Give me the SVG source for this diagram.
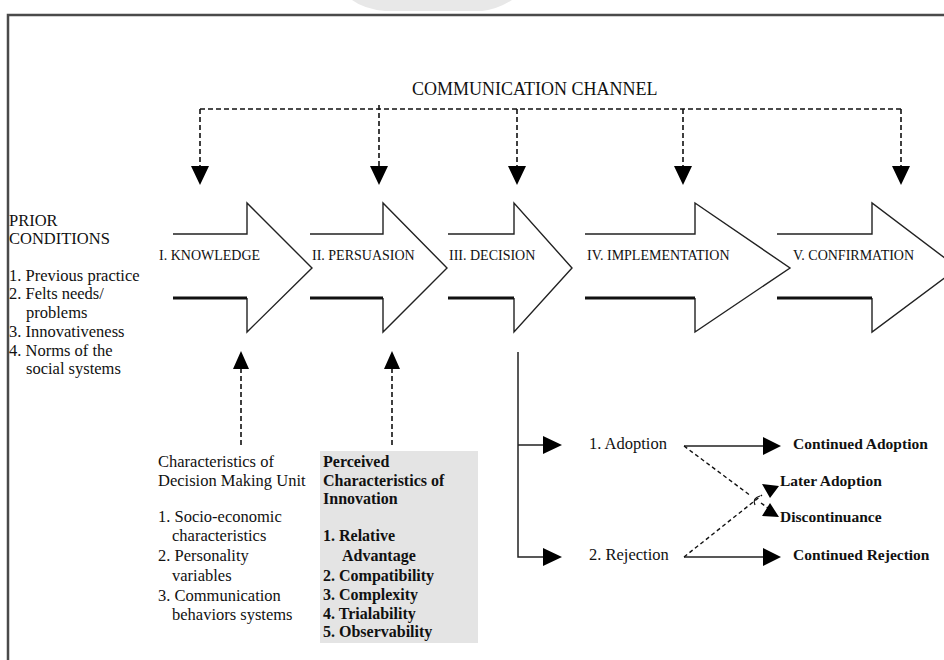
<svg xmlns="http://www.w3.org/2000/svg" width="944" height="660" viewBox="0 0 944 660">
<style>
.t{font-family:"Liberation Serif","Times New Roman",serif;fill:#111}
.lbl{font-size:14px}
.body{font-size:16.5px}
.b{font-size:16px;font-weight:bold}
.rb{font-size:15.5px;font-weight:bold}
.head{fill:none;stroke:#222;stroke-width:1.4;stroke-linejoin:miter}
.shB{fill:none;stroke:#111;stroke-width:3}
.dash{fill:none;stroke:#111;stroke-width:1.6;stroke-dasharray:5 3}
.dashd{fill:none;stroke:#111;stroke-width:1.4;stroke-dasharray:4 3}
.solid{fill:none;stroke:#222;stroke-width:1.5}
.ah{fill:#000}
</style>
<rect width="944" height="660" fill="#fff"/>
<path d="M352,0 L512,0 Q498,9 482,11 L385,11 Q364,9 352,0 Z" fill="#e8e8e8"/>
<rect x="8" y="15" width="980" height="720" fill="none" stroke="#4a4a4a" stroke-width="2.5"/>

<g id="node-comm-channel">
<text class="t" x="412" y="95" font-size="18">COMMUNICATION CHANNEL</text>
</g>

<g id="node-prior">
<text class="t body" x="9" y="226">PRIOR</text>
<text class="t body" x="9" y="244">CONDITIONS</text>
<text class="t body" x="9" y="281">1. Previous practice</text>
<text class="t body" x="9" y="299">2. Felts needs/</text>
<text class="t body" x="26" y="318">problems</text>
<text class="t body" x="9" y="337">3. Innovativeness</text>
<text class="t body" x="9" y="356">4. Norms of  the</text>
<text class="t body" x="26" y="374">social systems</text>
</g>

<g id="node-knowledge">
<path class="head" d="M173,234 H247 V203 L312,268 L247,332 V298"/>
<path class="shB" d="M173,298 H247"/>
<text class="t lbl" x="159" y="260">I. KNOWLEDGE</text>
</g>
<g id="node-persuasion">
<path class="head" d="M310,234 H383 V203 L447,268 L383,332 V298"/>
<path class="shB" d="M310,298 H383"/>
<text class="t lbl" x="312" y="260">II. PERSUASION</text>
</g>
<g id="node-decision">
<path class="head" d="M448,234 H514 V203 L572,268 L514,332 V298"/>
<path class="shB" d="M448,298 H514"/>
<text class="t lbl" x="449" y="260">III. DECISION</text>
</g>
<g id="node-implementation">
<path class="head" d="M585,234 H695 V203 L790,268 L695,332 V298"/>
<path class="shB" d="M585,298 H695"/>
<text class="t lbl" x="587" y="260">IV. IMPLEMENTATION</text>
</g>
<g id="node-confirmation">
<path class="head" d="M777,234 H872 V203 L958,268 L872,332 V298"/>
<path class="shB" d="M777,298 H872"/>
<text class="t lbl" x="793" y="260">V. CONFIRMATION</text>
</g>

<g id="node-dmu">
<text class="t body" x="158" y="467">Characteristics of</text>
<text class="t body" x="158" y="486">Decision Making Unit</text>
<text class="t body" x="158" y="522">1. Socio-economic</text>
<text class="t body" x="172" y="541">characteristics</text>
<text class="t body" x="158" y="561">2. Personality</text>
<text class="t body" x="172" y="581">variables</text>
<text class="t body" x="158" y="601">3. Communication</text>
<text class="t body" x="172" y="620">behaviors systems</text>
</g>

<g id="node-pci">
<rect x="320" y="451" width="158" height="192" fill="#e4e4e4"/>
<text class="t b" x="323" y="467">Perceived</text>
<text class="t b" x="323" y="486">Characteristics of</text>
<text class="t b" x="323" y="504">Innovation</text>
<text class="t b" x="323" y="541">1. Relative</text>
<text class="t b" x="342" y="561">Advantage</text>
<text class="t b" x="323" y="581">2. Compatibility</text>
<text class="t b" x="323" y="600">3. Complexity</text>
<text class="t b" x="323" y="619">4. Trialability</text>
<text class="t b" x="323" y="637">5. Observability</text>
</g>

<g id="node-adoption"><text class="t body" x="589" y="449">1. Adoption</text></g>
<g id="node-rejection"><text class="t body" x="589" y="560">2. Rejection</text></g>
<g id="node-continued-adoption"><text class="t rb" x="793" y="449">Continued Adoption</text></g>
<g id="node-later-adoption"><text class="t rb" x="780" y="486">Later Adoption</text></g>
<g id="node-discontinuance"><text class="t rb" x="780" y="522">Discontinuance</text></g>
<g id="node-continued-rejection"><text class="t rb" x="793" y="560">Continued Rejection</text></g>

<g id="connectors">
<!-- communication channel -->
<path class="dash" d="M200,109 H901"/>
<path class="dash" d="M200,109 V166 M517,109 V166 M683,109 V166 M901,109 V166"/>
<path class="dash" d="M379,105 V166" stroke-width="2.6"/>
<path class="ah" d="M191,166 H209 L200,185 Z M370,166 H388 L379,185 Z M508,166 H526 L517,185 Z M674,166 H692 L683,185 Z M892,166 H910 L901,185 Z"/>
<!-- upward influences -->
<path class="dash" d="M241,445 V369 M392,445 V369"/>
<path class="ah" d="M233,369 H249 L241,351 Z M384,369 H400 L392,351 Z"/>
<!-- decision outcomes -->
<path class="solid" d="M518,352 V557 H543 M518,445 H543"/>
<path class="ah" d="M543,436 L562,445 L543,454 Z M543,548 L562,557 L543,566 Z"/>
<path class="solid" d="M684,446 H764 M684,557 H764"/>
<path class="ah" d="M763,437 L781,446 L763,455 Z M763,548 L781,557 L763,566 Z"/>
<path class="dashd" d="M684,446 L751,496 M761,503 L768,508"/>
<path class="dashd" d="M684,557 L762,495"/>
<path d="M760,496 Q752,498 755,505" fill="none" stroke="#111" stroke-width="1.2"/>
<path class="ah" d="M762,484 L779,486 L770,498 Z M770,503 L779,517 L762,516 Z"/>
</g>
</svg>
